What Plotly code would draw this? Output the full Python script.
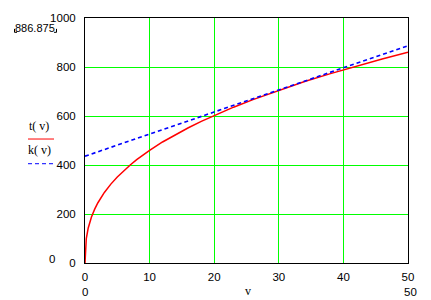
import plotly.graph_objects as go

# ---- data ----
v_t = [0, 0.2, 0.5, 1, 1.5, 2, 3, 4, 5, 6, 7, 8, 9, 10, 12, 14, 16, 18, 20,
       23, 26, 30, 34, 38, 42, 46, 50]
t_vals = [0, 100, 143, 188, 220, 246, 288, 322, 351, 377, 400, 422, 442, 460,
          494, 524, 552, 578, 602, 636, 667, 705, 741, 773, 804, 833, 860]
v_k = [0, 50]
k_vals = [436, 886.875]

x_ticks = [0, 10, 20, 30, 40, 50]
y_ticks = [0, 200, 400, 600, 800, 1000]
x_limits = ["0", "50"]
y_limits = ["0", "886.875"]
x_label = "v"
legend_labels = ["t( v)", "k( v)"]

W, H = 431, 300
L, R, T, B = 85, 408, 15, 263  # plot area in pixels


def px(x):
    return (x - L) / (R - L)


def py(y):
    return (B - y) / (B - T)


GREEN = "#00ff00"
SANS = "Liberation Sans, Arial, sans-serif"
SERIF = "Liberation Serif, Times New Roman, serif"
FS = 11.5

fig = go.Figure()
fig.add_trace(go.Scatter(x=v_t, y=t_vals, mode="lines",
                         line=dict(color="#ff0000", width=1.5),
                         showlegend=False, hoverinfo="skip"))
fig.add_trace(go.Scatter(x=v_k, y=k_vals, mode="lines",
                         line=dict(color="#0000ff", width=1.6, dash="4px,3px"),
                         showlegend=False, hoverinfo="skip"))

fig.update_layout(
    width=W, height=H,
    margin=dict(l=L, r=W - R, t=T, b=H - B, pad=0),
    paper_bgcolor="white", plot_bgcolor="white",
    font=dict(family=SANS, size=FS, color="black"),
    xaxis=dict(range=[0, 50], tickvals=x_ticks, ticktext=[str(t) for t in x_ticks],
               showgrid=True, gridcolor=GREEN, gridwidth=1, zeroline=False,
               showline=True, linecolor="black", linewidth=1, mirror=True,
               ticks="outside", ticklen=3, tickcolor="rgba(0,0,0,0)",
               tickfont=dict(family=SANS, size=FS)),
    yaxis=dict(range=[0, 1000], tickvals=y_ticks, ticktext=[str(t) for t in y_ticks],
               showgrid=True, gridcolor=GREEN, gridwidth=1, zeroline=False,
               showline=True, linecolor="black", linewidth=1, mirror=True,
               ticks="outside", ticklen=6, tickcolor="rgba(0,0,0,0)",
               tickfont=dict(family=SANS, size=FS)),
)

ann = []
# axis limits
ann.append(dict(x=px(85), y=py(292), text=x_limits[0]))
ann.append(dict(x=px(410), y=py(292), text=x_limits[1]))
ann.append(dict(x=px(248), y=py(291), text=x_label,
                font=dict(family=SERIF, size=12)))
ann.append(dict(x=px(52), y=py(259), text=y_limits[0]))
ann.append(dict(x=px(35), y=py(25), text=y_limits[1],
                font=dict(family=SANS, size=11)))
# legend
ann.append(dict(x=px(39), y=py(124), text=legend_labels[0],
                font=dict(family=SERIF, size=12)))
ann.append(dict(x=px(39), y=py(149), text=legend_labels[1],
                font=dict(family=SERIF, size=12)))
for a in ann:
    a.update(xref="paper", yref="paper", showarrow=False,
             xanchor="center", yanchor="middle")
    a.setdefault("font", dict(family=SANS, size=FS))
fig.update_layout(annotations=ann)

shapes = [
    dict(type="line", xref="paper", yref="paper",
         x0=px(28), x1=px(54), y0=py(137.5), y1=py(137.5),
         line=dict(color="#ff0000", width=1)),
    dict(type="line", xref="paper", yref="paper",
         x0=px(28), x1=px(54), y0=py(162.5), y1=py(162.5),
         line=dict(color="#0000ff", width=1, dash="4px,3px")),
    # corner brackets around the limit value
    dict(type="path", xref="paper", yref="paper",
         path=f"M {px(14.5)} {py(26)} L {px(14.5)} {py(29.5)} L {px(17)} {py(29.5)}",
         line=dict(color="black", width=1)),
    dict(type="path", xref="paper", yref="paper",
         path=f"M {px(56.5)} {py(26)} L {px(56.5)} {py(29.5)} L {px(54)} {py(29.5)}",
         line=dict(color="black", width=1)),
]
fig.update_layout(shapes=shapes)

fig.write_html("out.html")
